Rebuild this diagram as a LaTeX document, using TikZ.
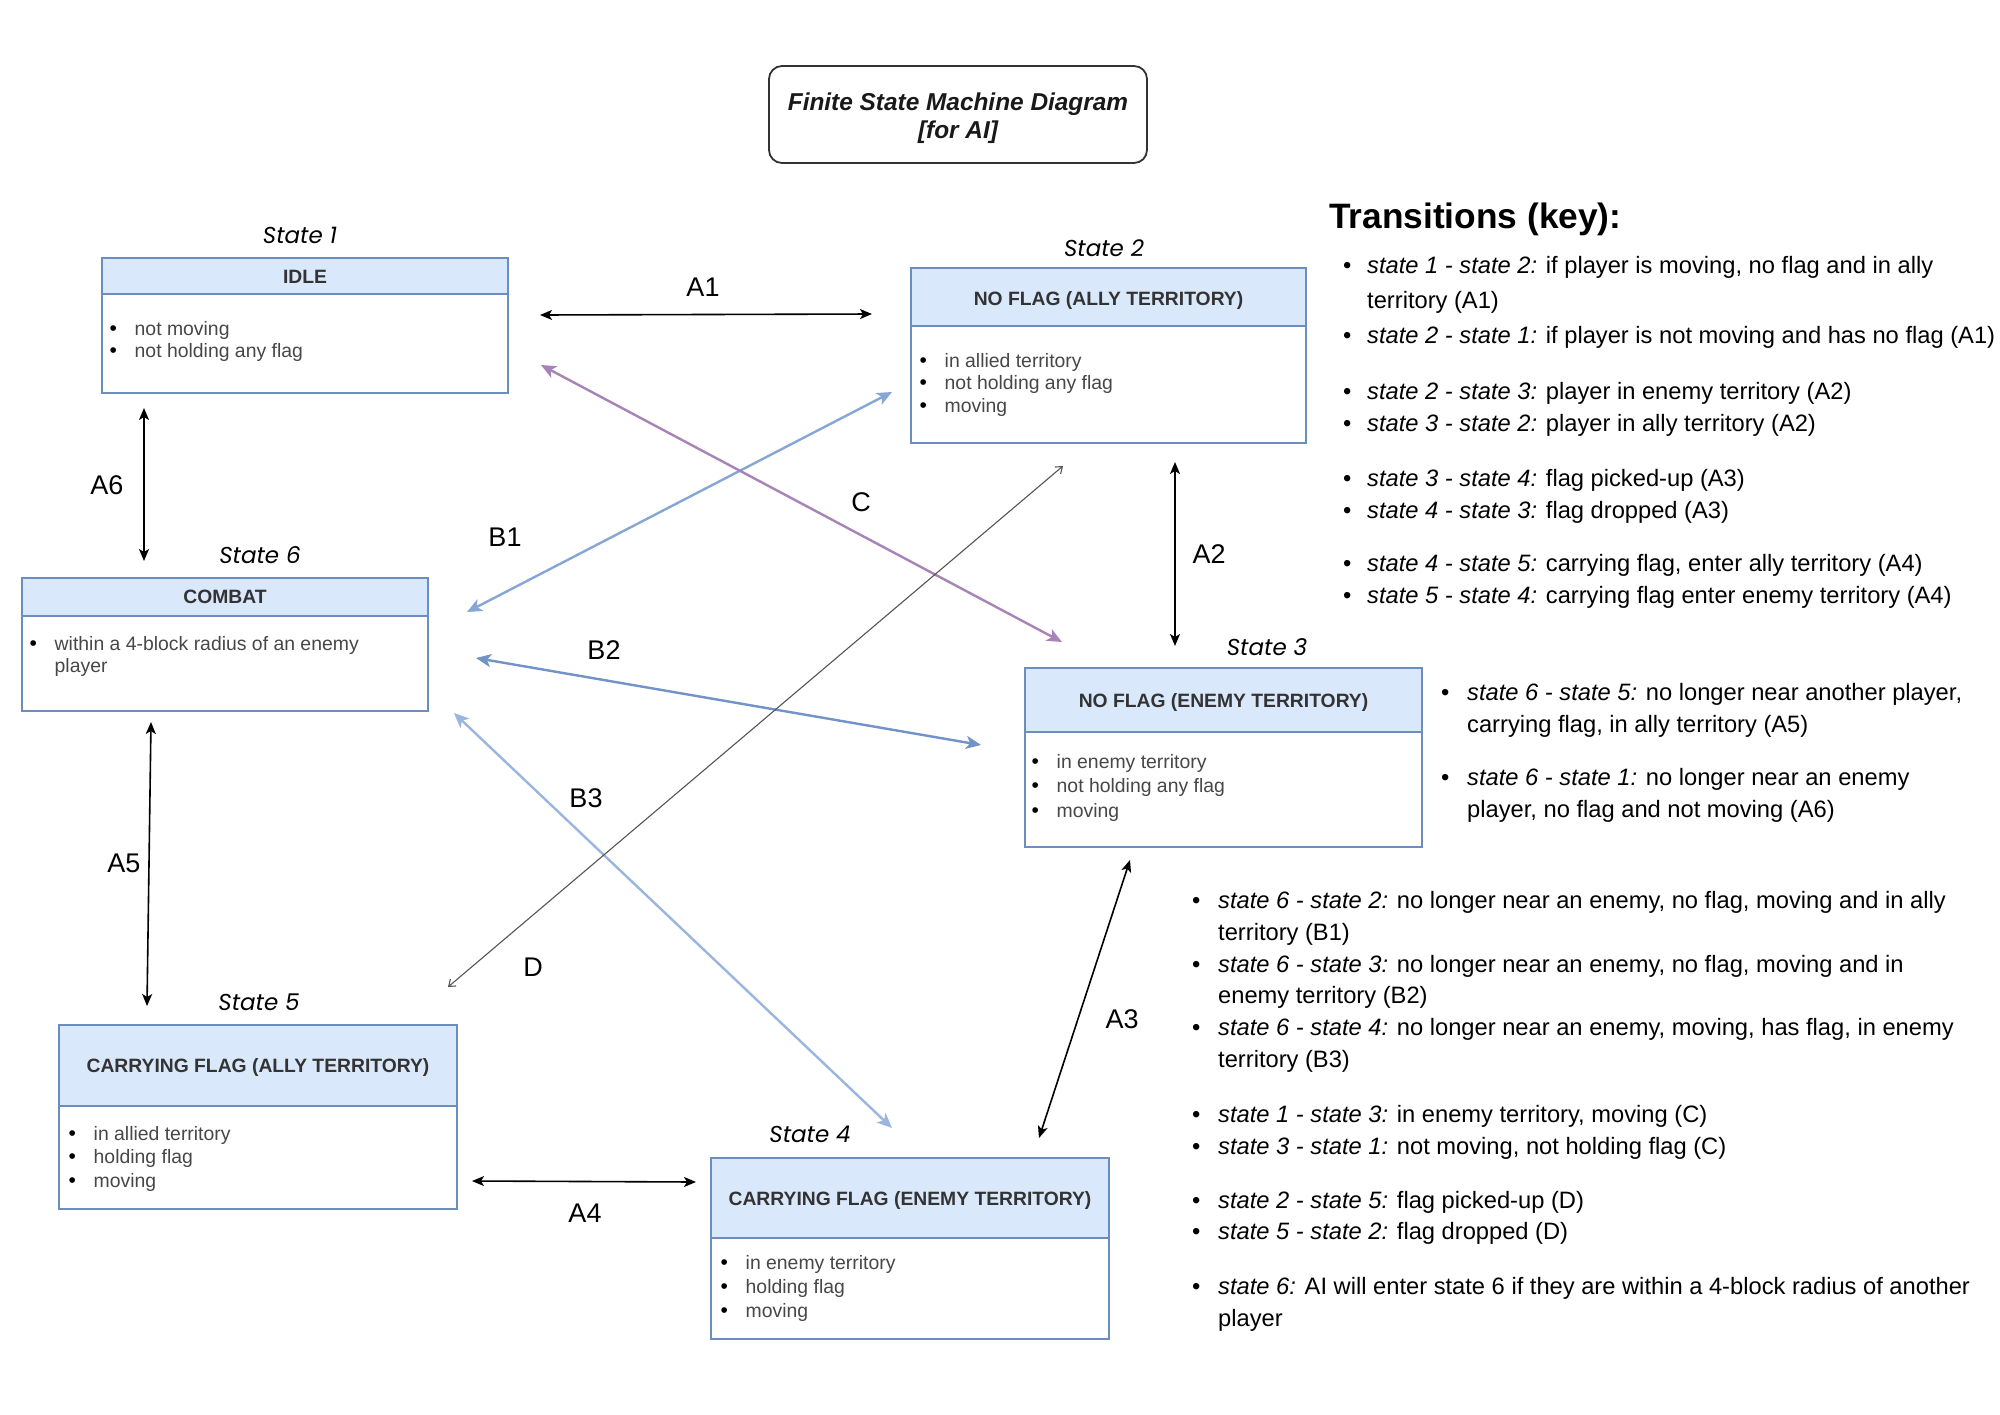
\documentclass[tikz,border=0pt]{standalone}
\usepackage{fontspec}
\setmainfont{Liberation Sans}
\newfontfamily\popfont{Poppins}
\usetikzlibrary{arrows.meta}
\definecolor{sblue}{HTML}{6C8EBF}
\definecolor{sfill}{HTML}{DAE8FC}
\definecolor{bOne}{HTML}{86A6D6}
\definecolor{bTwo}{HTML}{7193C8}
\definecolor{bThree}{HTML}{9AB6DE}
\definecolor{cPurple}{HTML}{A783B8}
\definecolor{dGray}{HTML}{555555}
\newcommand\stbox[7]{%
  \fill[sfill] (#2,#3) rectangle (#4,#6);
  \draw[sblue, line width=1.8pt] (#2,#6) -- (#4,#6);
  \node[stnode, minimum width={#4-#2}, minimum height={#5-#3}] (#1) at ({(#2+#4)/2},{(#3+#5)/2}) {};
  \node[hdr] (#1h) at ({(#2+#4)/2},#7) {\strut\hdrtext};
}
\newcommand\hdrtext{}
\newcommand\bl[4]{\node[bodyt] (#1) at (#2,#3) {\makebox[25pt][l]{\color{black}\fontsize{21}{23}\selectfont\textbullet}#4};}
\newcommand\ki[6]{\node[keyt] (#1) at (#2,#3) {\makebox[#4pt][l]{\textbullet}\textit{#5} #6};}
\newcommand\kc[4]{\node[keyt] (#1) at (#2,#3) {#4};}
\begin{document}
\begin{tikzpicture}[x=1pt,y=-1pt,
  stnode/.style={draw=sblue, line width=1.8pt, inner sep=0pt, rectangle},
  hdr/.style={anchor=base, font=\fontsize{19.3}{23}\selectfont\bfseries, text=black!80, inner sep=0pt},
  bodyt/.style={anchor=base west, font=\fontsize{19.4}{23}\selectfont, text=black!72, inner sep=0pt},
  slabel/.style={anchor=base, font=\popfont\itshape\fontsize{23}{28}\selectfont, inner sep=0pt},
  tlabel/.style={font=\fontsize{27}{32}\selectfont, inner sep=0pt},
  keyt/.style={anchor=base west, font=\fontsize{23.7}{30}\selectfont, inner sep=0pt},
  titlet/.style={anchor=base, font=\fontsize{24.4}{28}\selectfont\bfseries\itshape, text=black!90, inner sep=0pt},
  blk/.style={line width=1.6pt, {Stealth[length=12pt,width=10pt,inset=3pt]}-{Stealth[length=12pt,width=10pt,inset=3pt]}},
  col/.style={line width=2.4pt, draw=#1, {Stealth[length=15pt,width=13pt,inset=4pt]}-{Stealth[length=15pt,width=13pt,inset=4pt]}},
  thin/.style={line width=1.1pt, draw=dGray, {Straight Barb[length=6pt,width=9pt]}-{Straight Barb[length=6pt,width=9pt]}}
]
\useasboundingbox[fill=white] (0,0) rectangle (2000,1414);

% title
\node[draw=black!80, line width=1.8pt, rounded corners=13pt, minimum width=378, minimum height=97, inner sep=0pt] (title) at (958,114.5) {};
\node[titlet] (title1) at (958,110) {Finite State Machine Diagram};
\node[titlet] (title2) at (958,138) {[for AI]};

% state boxes
\renewcommand\hdrtext{IDLE}\stbox{s1}{102}{258}{508}{393}{294}{283}
\renewcommand\hdrtext{NO FLAG (ALLY TERRITORY)}\stbox{s2}{911}{268}{1306}{443}{326}{305}
\renewcommand\hdrtext{COMBAT}\stbox{s6}{22}{578}{428}{711}{616}{603}
\renewcommand\hdrtext{NO FLAG (ENEMY TERRITORY)}\stbox{s3}{1025}{668}{1422}{847}{732}{707}
\renewcommand\hdrtext{CARRYING FLAG (ALLY TERRITORY)}\stbox{s5}{59}{1025}{457}{1209}{1106}{1072}
\renewcommand\hdrtext{CARRYING FLAG (ENEMY TERRITORY)}\stbox{s4}{711}{1158}{1109}{1339}{1238}{1205}

% state labels
\node[slabel] (l1) at (300,243) {State 1};
\node[slabel] (l2) at (1104,256) {State 2};
\node[slabel] (l6) at (260,563) {State 6};
\node[slabel] (l3) at (1267,655) {State 3};
\node[slabel] (l5) at (259,1010) {State 5};
\node[slabel] (l4) at (810,1142) {State 4};

% bodies
\bl{s1a}{109.5}{335}{not moving}
\bl{s1b}{109.5}{357}{not holding any flag}
\bl{s2a}{919.5}{367}{in allied territory}
\bl{s2b}{919.5}{389}{not holding any flag}
\bl{s2c}{919.5}{412}{moving}
\bl{s6a}{29.5}{650}{within a 4-block radius of an enemy}
\node[bodyt] (s6b) at (54.5,672) {player};
\bl{s3a}{1031.5}{768}{in enemy territory}
\bl{s3b}{1031.5}{792}{not holding any flag}
\bl{s3c}{1031.5}{817}{moving}
\bl{s5a}{68.5}{1140}{in allied territory}
\bl{s5b}{68.5}{1163}{holding flag}
\bl{s5c}{68.5}{1187}{moving}
\bl{s4a}{720.5}{1269}{in enemy territory}
\bl{s4b}{720.5}{1293}{holding flag}
\bl{s4c}{720.5}{1317}{moving}

% connector end points
\coordinate (a1l) at (540,315); \coordinate (a1r) at (872,314);
\coordinate (a6t) at (144,408); \coordinate (a6b) at (144,561);
\coordinate (a5t) at (151,722); \coordinate (a5b) at (147,1006);
\coordinate (a4l) at (472,1181); \coordinate (a4r) at (696,1182);
\coordinate (a3t) at (1130,860); \coordinate (a3b) at (1039,1138);
\coordinate (a2t) at (1175,462); \coordinate (a2b) at (1175,646);
\coordinate (b1t) at (892,392); \coordinate (b1b) at (467,612);
\coordinate (b2l) at (476,658); \coordinate (b2r) at (981,745);
\coordinate (b3t) at (454,713); \coordinate (b3b) at (892,1128);
\coordinate (ct) at (541,365); \coordinate (cb) at (1062,642);
\coordinate (dt) at (1063,466); \coordinate (db) at (448,987);

\draw[col=bOne] (b1t) -- (b1b);
\draw[col=bTwo] (b2l) -- (b2r);
\draw[col=bThree] (b3t) -- (b3b);
\draw[col=cPurple] (ct) -- (cb);
\draw[thin] (dt) -- (db);
\draw[blk] (a1l) -- (a1r);
\draw[blk] (a6t) -- (a6b);
\draw[blk] (a5t) -- (a5b);
\draw[blk] (a4l) -- (a4r);
\draw[blk] (a3t) -- (a3b);
\draw[blk] (a2t) -- (a2b);

% connector labels
\node[tlabel] (A1) at (703,287) {A1};
\node[tlabel] (A6) at (107,485) {A6};
\node[tlabel] (A5) at (124,863) {A5};
\node[tlabel] (A4) at (585,1213) {A4};
\node[tlabel] (A3) at (1122,1019) {A3};
\node[tlabel] (A2) at (1209,554) {A2};
\node[tlabel] (B1) at (505,537) {B1};
\node[tlabel] (B2) at (604,650) {B2};
\node[tlabel] (B3) at (586,798) {B3};
\node[tlabel] (Cl) at (861,502) {C};
\node[tlabel] (Dl) at (533,967) {D};

% key
\node[anchor=base west, font=\fontsize{35.3}{40}\selectfont\bfseries, inner sep=0pt] (keyhead) at (1329,228) {Transitions (key):};
\ki{k1}{1343}{273}{24}{state 1 - state 2:}{if player is moving, no flag and in ally}
\kc{k1c}{1367}{308}{territory (A1)}
\ki{k2}{1343}{343}{24}{state 2 - state 1:}{if player is not moving and has no flag (A1)}
\ki{k3}{1343}{399}{24}{state 2 - state 3:}{player in enemy territory (A2)}
\ki{k4}{1343}{431}{24}{state 3 - state 2:}{player in ally territory (A2)}
\ki{k5}{1343}{486}{24}{state 3 - state 4:}{flag picked-up (A3)}
\ki{k6}{1343}{518}{24}{state 4 - state 3:}{flag dropped (A3)}
\ki{k7}{1343}{571}{24}{state 4 - state 5:}{carrying flag, enter ally territory (A4)}
\ki{k8}{1343}{603}{24}{state 5 - state 4:}{carrying flag enter enemy territory (A4)}
\ki{k9}{1441}{700}{26}{state 6 - state 5:}{no longer near another player,}
\kc{k9c}{1467}{732}{carrying flag, in ally territory (A5)}
\ki{k10}{1441}{785}{26}{state 6 - state 1:}{no longer near an enemy}
\kc{k10c}{1467}{817}{player, no flag and not moving (A6)}
\ki{k11}{1192}{908}{26}{state 6 - state 2:}{no longer near an enemy, no flag, moving and in ally}
\kc{k11c}{1218}{940}{territory (B1)}
\ki{k12}{1192}{972}{26}{state 6 - state 3:}{no longer near an enemy, no flag, moving and in}
\kc{k12c}{1218}{1003}{enemy territory (B2)}
\ki{k13}{1192}{1035}{26}{state 6 - state 4:}{no longer near an enemy, moving, has flag, in enemy}
\kc{k13c}{1218}{1067}{territory (B3)}
\ki{k14}{1192}{1122}{26}{state 1 - state 3:}{in enemy territory, moving (C)}
\ki{k15}{1192}{1154}{26}{state 3 - state 1:}{not moving, not holding flag (C)}
\ki{k16}{1192}{1208}{26}{state 2 - state 5:}{flag picked-up (D)}
\ki{k17}{1192}{1239}{26}{state 5 - state 2:}{flag dropped (D)}
\ki{k18}{1192}{1294}{26}{state 6:}{AI will enter state 6 if they are within a 4-block radius of another}
\kc{k18c}{1218}{1326}{player}
\end{tikzpicture}
\end{document}
